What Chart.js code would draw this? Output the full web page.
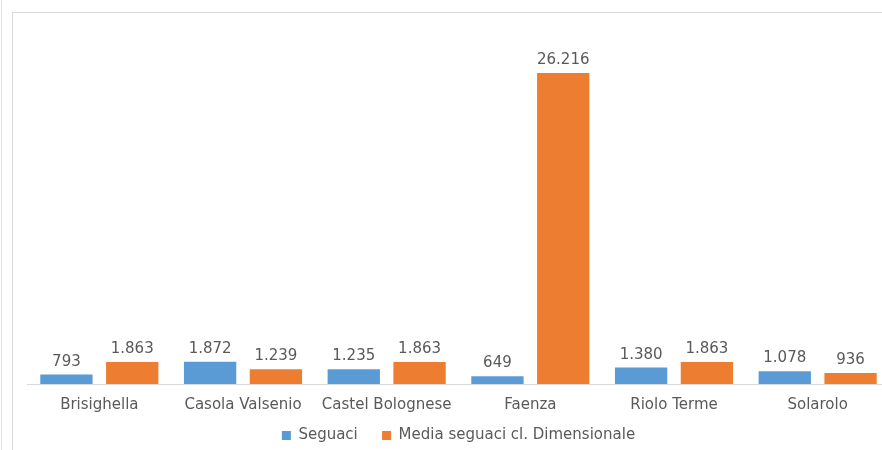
<!DOCTYPE html>
<html>
<head>
<meta charset="utf-8">
<script src="https://cdn.jsdelivr.net/npm/chart.js@4"></script>
<style>
  html, body { margin: 0; padding: 0; background: #fff; overflow: hidden; }
  body { width: 882px; height: 450px; position: relative; }
  #edge { position: absolute; left: 1px; top: 0; width: 1px; height: 450px; background: #e3e3e3; }
  #frame { position: absolute; left: 12px; top: 12px; width: 900px; height: 460px;
           border-left: 1px solid #d9d9d9; border-top: 1px solid #d9d9d9; }
  #wrap { position: absolute; left: 0; top: 0; width: 900px; height: 450px; }
</style>
</head>
<body>
<div id="edge"></div>
<div id="frame"></div>
<div id="wrap"><canvas id="grafico"></canvas></div>
<script>
const comuni = ["Brisighella", "Casola Valsenio", "Castel Bolognese", "Faenza", "Riolo Terme", "Solarolo"];
const seguaci = [793, 1872, 1235, 649, 1380, 1078];
const mediaSeguaci = [1863, 1239, 1863, 26216, 1863, 936];

const blu = "#5B9BD5";
const arancio = "#ED7D31";
const grigioTesto = "#595959";
const font = "'DejaVu Sans', Verdana, sans-serif";

// numeri all'italiana: 1.863
const formatta = function (v) {
  return String(v).replace(/\B(?=(\d{3})+(?!\d))/g, ".");
};

const etichette = {
  id: "etichette",
  afterDatasetsDraw(chart) {
    const ctx = chart.ctx;
    ctx.save();
    ctx.font = "15px " + font;
    ctx.fillStyle = grigioTesto;
    ctx.textAlign = "center";
    ctx.textBaseline = "alphabetic";
    chart.data.datasets.forEach((ds, i) => {
      chart.getDatasetMeta(i).data.forEach((bar, j) => {
        ctx.fillText(formatta(ds.data[j]), bar.x, bar.y - 9);
      });
    });
    ctx.restore();
  },
};

const data = {
  labels: comuni,
  datasets: [
    {
      label: "Seguaci",
      data: seguaci,
      backgroundColor: blu,
      categoryPercentage: 0.916,
      barPercentage: 0.795,
    },
    {
      label: "Media seguaci cl. Dimensionale",
      data: mediaSeguaci,
      backgroundColor: arancio,
      categoryPercentage: 0.916,
      barPercentage: 0.795,
    },
  ],
};

const config = {
  type: "bar",
  data: data,
  plugins: [etichette],
  options: {
    responsive: false,
    animation: false,
    layout: {
      padding: { left: 27.5, right: 10.5, top: 28, bottom: -3 },
    },
    scales: {
      x: {
        grid: { display: false, drawTicks: false },
        border: { display: true, color: "#d9d9d9", width: 1 },
        ticks: { color: grigioTesto, font: { family: font, size: 15 }, padding: 12 },
        afterFit(scale) {
          scale.height = 34;
        },
      },
      y: {
        display: false,
        min: 0,
        max: 30000,
      },
    },
    plugins: {
      legend: {
        position: "bottom",
        labels: {
          boxWidth: 9,
          boxHeight: 9,
          padding: 10,
          color: grigioTesto,
          font: { family: font, size: 15 },
          generateLabels(chart) {
            const voci = Chart.defaults.plugins.legend.labels.generateLabels(chart);
            // un po' di spazio tra le due voci
            voci.forEach((v, i) => {
              if (i < voci.length - 1) v.text = v.text + "   ";
            });
            return voci;
          },
        },
      },
      tooltip: { enabled: false },
    },
  },
};

const grafico = function () {
  const tela = document.getElementById("grafico");
  tela.width = 900;
  tela.height = 450;
  tela.style.width = "900px";
  tela.style.height = "450px";
  new Chart(tela, config);
};

grafico();
</script>
</body>
</html>
